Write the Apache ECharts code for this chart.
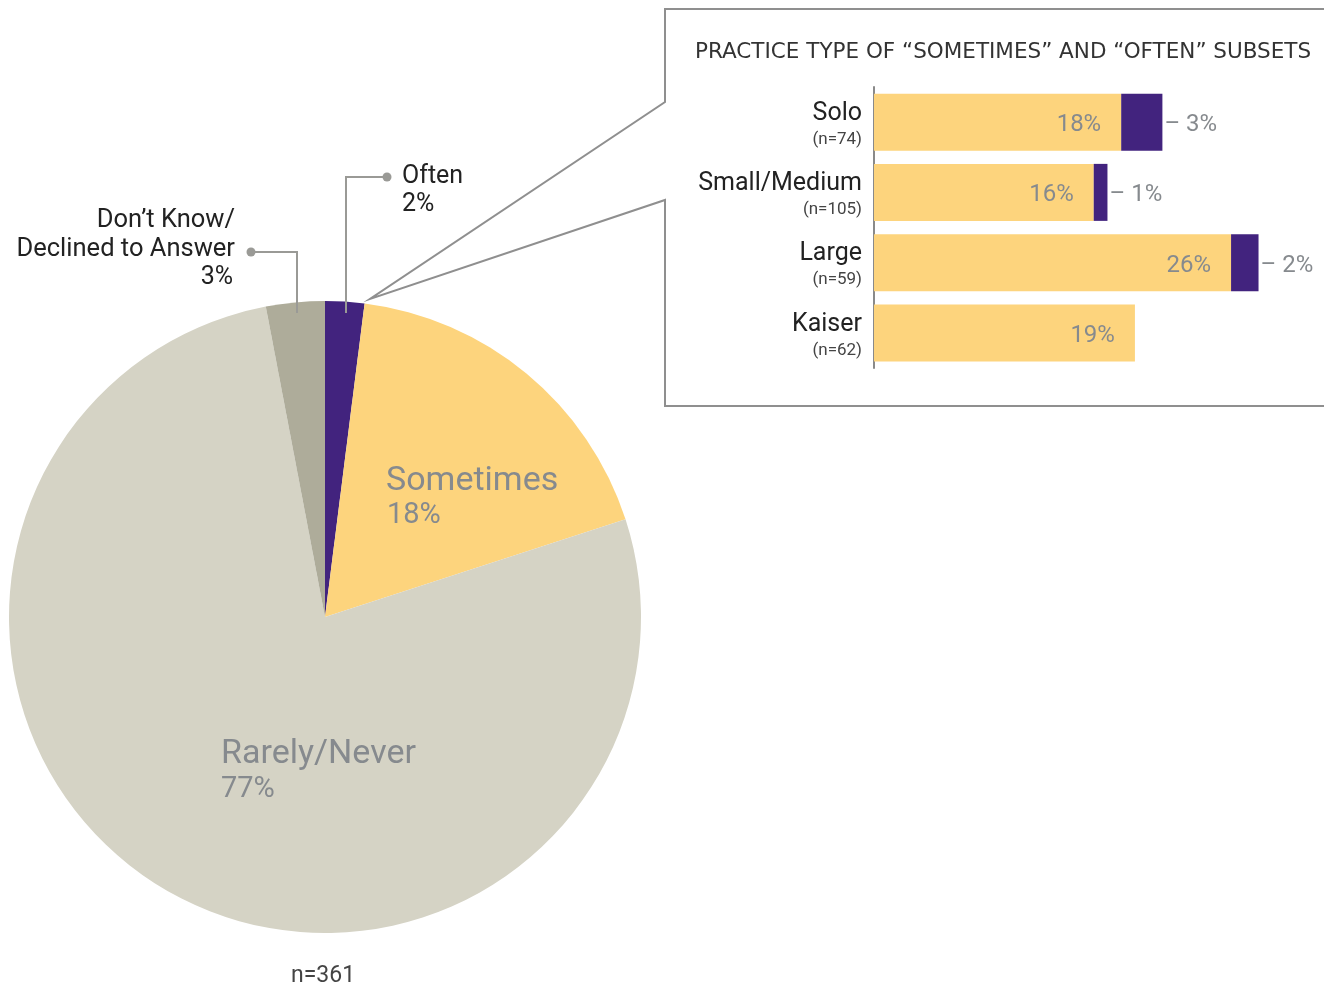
<!DOCTYPE html>
<html>
<head>
<meta charset="utf-8">
<script src="https://cdn.jsdelivr.net/npm/echarts@6.0.0/dist/echarts.min.js"></script>
<style>
  html, body { margin: 0; padding: 0; background: #fff; }
  #chart { width: 1324px; height: 987px; }
</style>
</head>
<body>
<div id="chart"></div>
<script>
// overall answers (pie), clockwise from 12 o'clock
const pieNames = ['Often', 'Sometimes', 'Rarely/Never', 'Don\u2019t Know/ Declined to Answer']
const pieValues = [2, 18, 77, 3]
const pieColors = ['#42237e', '#fdd47d', '#d5d3c5', '#aeac9a']

// practice type breakdown (bars)
const practices = ['Solo', 'Small/Medium', 'Large', 'Kaiser']
const practiceN = [74, 105, 59, 62]
const sometimesPct = [18, 16, 26, 19]
const oftenPct = [3, 1, 2, 0]

const FONT = 'Roboto, "Liberation Sans", sans-serif'
const lineGray = '#8f8f8f'
const leaderGray = '#9a9a96'
const labelGray = '#868a8e'

const chart = echarts.init(document.getElementById('chart'), null, { renderer: 'canvas' })

const pct = v => v + '%'
const txt = (x, y, text, size, fill, align) => ({
  type: 'text', x, y, z: 100, silent: true,
  style: { text, fontSize: size, fill, fontFamily: FONT, align: align || 'left', verticalAlign: 'middle' },
})

chart.setOption({
  animation: false,
  textStyle: { fontFamily: FONT },
  grid: { left: 874, top: 87, width: 412, height: 281 },
  xAxis: { type: 'value', min: 0, max: 30, show: false },
  yAxis: {
    type: 'category', inverse: true, data: practices,
    axisTick: { show: false },
    axisLine: { lineStyle: { color: '#8a8a8a', width: 2 } },
    axisLabel: {
      margin: 12, align: 'right', padding: [5, 0, 0, 0],
      formatter: (v, i) => `{a|${v}}\n{b|(n=${practiceN[i]})}`,
      rich: {
        a: { fontSize: 25, color: '#222', fontFamily: FONT, lineHeight: 30, align: 'right' },
        b: { fontSize: 17, color: '#444', fontFamily: FONT, lineHeight: 22, align: 'right' },
      },
    },
  },
  series: [
    {
      type: 'pie', center: [325, 617], radius: 316, startAngle: 90, clockwise: true,
      silent: true, label: { show: false }, labelLine: { show: false },
      itemStyle: { borderWidth: 0 },
      data: pieNames.map((n, i) => ({ name: n, value: pieValues[i], itemStyle: { color: pieColors[i] } })),
    },
    {
      type: 'bar', stack: 'p', barWidth: 57, silent: true,
      itemStyle: { color: '#fdd47d' },
      label: {
        show: true, position: 'insideRight', distance: 20, offset: [0, 3],
        fontSize: 24, color: labelGray, fontFamily: FONT, formatter: p => pct(p.value),
      },
      data: sometimesPct,
    },
    {
      type: 'bar', stack: 'p', barWidth: 57, silent: true,
      itemStyle: { color: '#42237e' },
      label: {
        show: true, position: 'right', distance: 2, offset: [0, 3],
        fontSize: 24, color: labelGray, fontFamily: FONT,
        formatter: p => p.value ? '\u2013 ' + pct(p.value) : '',
      },
      data: oftenPct,
    },
  ],
  graphic: [
    // callout box opening toward the pie
    {
      type: 'polyline', silent: true, z: 10,
      shape: { points: [[1330, 9], [665, 9], [665, 102], [370, 299], [665, 200], [665, 406], [1330, 406]] },
      style: { stroke: lineGray, lineWidth: 2, fill: null },
    },
    {
      type: 'text', x: 695, y: 52, z: 100, silent: true,
      style: {
        text: 'PRACTICE TYPE OF \u201cSOMETIMES\u201d AND \u201cOFTEN\u201d SUBSETS',
        fontSize: 21.5, fill: '#333', fontFamily: '"DejaVu Sans", sans-serif', verticalAlign: 'middle',
      },
    },
    // Often leader
    {
      type: 'polyline', silent: true, z: 10,
      shape: { points: [[387, 177], [346, 177], [346, 313]] },
      style: { stroke: leaderGray, lineWidth: 2, fill: null },
    },
    { type: 'circle', z: 10, silent: true, shape: { cx: 387, cy: 177, r: 4.5 }, style: { fill: leaderGray } },
    txt(402, 177, pieNames[0], 25, '#222'),
    txt(402, 205, pct(pieValues[0]), 25, '#222'),
    // Don't know leader
    {
      type: 'polyline', silent: true, z: 10,
      shape: { points: [[251, 252], [297, 252], [297, 313]] },
      style: { stroke: leaderGray, lineWidth: 2, fill: null },
    },
    { type: 'circle', z: 10, silent: true, shape: { cx: 251, cy: 252, r: 4.5 }, style: { fill: leaderGray } },
    txt(235, 221, pieNames[3].split(' ').slice(0, 2).join(' '), 25.5, '#222', 'right'),
    txt(235, 250, pieNames[3].split(' ').slice(2).join(' '), 25.5, '#222', 'right'),
    txt(233, 278, pct(pieValues[3]), 25, '#222', 'right'),
    // in-slice labels
    txt(386, 481, pieNames[1], 34, labelGray),
    txt(387, 516, pct(pieValues[1]), 29, labelGray),
    txt(221, 754, pieNames[2], 34, labelGray),
    txt(221, 790, pct(pieValues[2]), 29, labelGray),
    txt(323, 976, 'n=361', 23, '#444', 'center'),
  ],
})
</script>
</body>
</html>
